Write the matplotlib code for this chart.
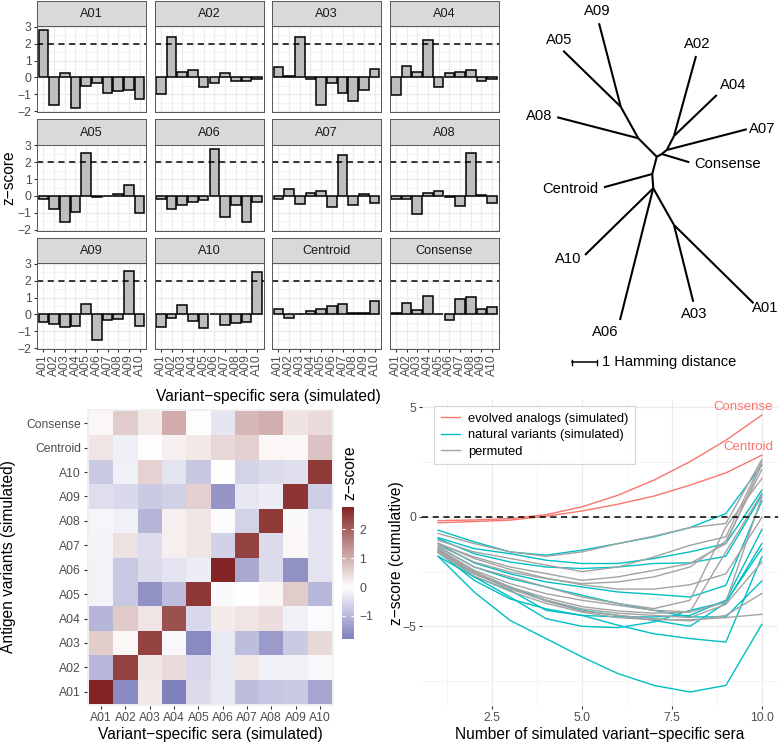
import numpy as np
import matplotlib
matplotlib.use("Agg")
import matplotlib.pyplot as plt
from matplotlib.colors import LinearSegmentedColormap, Normalize
from matplotlib.lines import Line2D

plt.rcParams['font.family'] = ['Liberation Sans', 'DejaVu Sans']

W, H = 778, 743

# --- data -----------------------------------------------------------------
sera = ['A01', 'A02', 'A03', 'A04', 'A05', 'A06', 'A07', 'A08', 'A09', 'A10']
antigens = sera + ['Centroid', 'Consense']

# z-scores of each antigen variant against each variant-specific serum
z_a01 = [2.78, -1.63, 0.29, -1.80, -0.51, -0.31, -0.92, -0.80, -0.75, -1.27]
z_a02 = [-1.00, 2.41, 0.31, 0.47, -0.53, -0.31, 0.29, -0.20, -0.20, -0.10]
z_a03 = [0.63, 0.10, 2.41, -0.10, -1.63, -0.31, -0.92, -1.41, -0.75, 0.49]
z_a04 = [-1.04, 0.69, 0.33, 2.20, -0.53, 0.25, 0.33, 0.43, -0.20, -0.06]
z_a05 = [-0.18, -0.78, -1.55, -0.94, 2.53, -0.08, 0.00, 0.12, 0.67, -1.00]
z_a06 = [-0.18, -0.78, -0.51, -0.37, -0.25, 2.78, -1.22, -0.51, -1.55, -0.37]
z_a07 = [-0.16, 0.39, -0.49, 0.20, 0.31, -0.63, 2.41, -0.51, 0.10, -0.39]
z_a08 = [-0.15, -0.20, -1.04, 0.18, 0.31, -0.06, -0.61, 2.51, 0.08, -0.39]
z_a09 = [-0.47, -0.53, -0.76, -0.67, 0.59, -1.49, -0.33, -0.24, 2.55, -0.69]
z_a10 = [-0.75, -0.20, 0.57, -0.37, -0.80, 0.00, -0.61, -0.51, -0.45, 2.51]
z_centroid = [0.34, -0.23, 0.04, 0.18, 0.30, 0.51, 0.60, 0.09, 0.09, 0.77]
z_consense = [0.10, 0.67, 0.27, 1.06, 0.04, -0.35, 0.90, 1.02, 0.35, 0.47]

# tree: node coordinates (Hamming distance units) and edges
tree_nodes = {
    'root': (0.0, 0.0), 'n1': (-0.74, 0.74), 'n2': (-1.44, 2.0),
    'n3': (0.2, 0.11), 'n4': (0.4, 0.27), 'n5': (0.69, 0.83),
    'n6': (-0.18, -0.69), 'n7': (-0.14, -1.26), 'n8': (0.69, -2.73),
    'A09': (-2.31, 5.34), 'A05': (-3.74, 4.24), 'A08': (-3.98, 1.58),
    'Consense': (1.30, -0.22), 'A07': (3.6, 1.10), 'A02': (1.57, 4.03),
    'A04': (2.4, 2.47), 'Centroid': (-2.11, -1.22), 'A10': (-2.87, -3.93),
    'A06': (-1.47, -6.53), 'A03': (1.46, -5.8), 'A01': (3.87, -5.86),
}
tree_edges = [('root', 'n1'), ('n1', 'A08'), ('n1', 'n2'), ('n2', 'A09'), ('n2', 'A05'),
              ('root', 'n3'), ('n3', 'Consense'), ('n3', 'n4'), ('n4', 'A07'), ('n4', 'n5'),
              ('n5', 'A02'), ('n5', 'A04'), ('root', 'n6'), ('n6', 'Centroid'), ('n6', 'n7'),
              ('n7', 'A10'), ('n7', 'A06'), ('n7', 'n8'), ('n8', 'A03'), ('n8', 'A01')]
# label alignment and offset (points) for each tip
tip_align = {'A09': ('center', 'bottom', 4), 'A05': ('center', 'bottom', 4),
             'A08': ('right', 'center', 4), 'A02': ('center', 'bottom', 4),
             'A04': ('left', 'bottom', 3), 'A07': ('left', 'center', 2),
             'Consense': ('left', 'center', 4), 'Centroid': ('right', 'center', 4),
             'A10': ('right', 'center', 4), 'A06': ('right', 'top', 4),
             'A03': ('center', 'top', 4), 'A01': ('left', 'top', -2)}

# cumulative z-score vs number of sera
n_sera = [1, 2, 3, 4, 5, 6, 7, 8, 9, 10]
evolved_consense = [-0.17, -0.14, -0.08, 0.10, 0.46, 0.99, 1.68, 2.52, 3.50, 4.65]
evolved_centroid = [-0.27, -0.21, -0.15, 0.03, 0.27, 0.58, 0.95, 1.45, 2.01, 2.82]
natural_runs = [
    [-0.61, -1.14, -1.60, -1.75, -1.52, -1.22, -0.91, -0.49, 0.15, 2.36],
    [-0.95, -1.45, -1.68, -1.98, -2.13, -2.13, -1.90, -1.60, -1.22, 1.22],
    [-1.00, -1.68, -2.06, -2.29, -2.36, -2.29, -2.13, -2.10, -1.80, 0.99],
    [-1.22, -2.10, -2.60, -2.97, -3.20, -3.43, -3.54, -3.66, -3.13, 0.73],
    [-1.80, -2.74, -3.35, -4.27, -4.50, -4.57, -4.57, -4.50, -3.81, -0.58],
    [-1.52, -2.59, -3.20, -3.81, -4.27, -4.50, -4.73, -5.00, -3.93, -1.22],
    [-1.45, -2.74, -3.66, -4.65, -5.00, -5.06, -4.80, -4.27, -3.89, -1.45],
    [-1.60, -2.90, -3.75, -4.20, -4.50, -4.95, -5.34, -5.56, -5.72, -1.83],
    [-1.80, -3.43, -4.73, -5.56, -6.40, -7.16, -7.70, -8.00, -7.70, -4.91],
    [-1.37, -2.29, -2.82, -3.20, -3.58, -3.96, -4.27, -4.57, -4.57, -2.93],
]
permuted_runs = [
    [-0.76, -1.22, -1.60, -1.80, -1.60, -1.22, -0.88, -0.49, -0.30, 2.62],
    [-1.07, -1.60, -1.90, -2.20, -2.50, -2.29, -1.83, -1.30, -0.91, 2.52],
    [-1.22, -1.83, -2.29, -2.59, -2.90, -2.74, -2.44, -2.13, -1.22, 2.41],
    [-1.30, -2.06, -2.52, -2.82, -3.05, -2.97, -2.74, -2.29, -1.10, 2.16],
    [-1.37, -2.29, -2.74, -3.20, -3.66, -3.96, -4.19, -3.81, -0.46, 1.75],
    [-1.45, -2.44, -3.05, -3.51, -3.81, -4.04, -4.27, -4.34, -1.60, 1.07],
    [-1.50, -2.50, -3.20, -3.70, -4.10, -4.30, -4.40, -4.35, -3.90, 0.91],
    [-1.20, -1.90, -2.40, -2.80, -3.10, -3.30, -3.30, -3.10, -2.60, -0.03],
    [-1.60, -2.60, -3.30, -3.80, -4.20, -4.40, -4.50, -4.60, -4.00, -2.06],
    [-1.55, -2.55, -3.25, -3.85, -4.30, -4.50, -4.65, -4.75, -4.50, -3.50],
    [-1.65, -2.70, -3.40, -3.95, -4.35, -4.60, -4.70, -4.70, -4.60, -4.45],
]

RED, CYAN, GREY = '#F8766D', '#00BFC4', '#A3A3A3'
TICKCOL = '#4D4D4D'

fig = plt.figure(figsize=(W / 100, H / 100), dpi=100)


def px_axes(x0, y0, x1, y1):
    return fig.add_axes([x0 / W, 1 - y1 / H, (x1 - x0) / W, (y1 - y0) / H])


# --- facet bar charts -----------------------------------------------------
facet_vals = [z_a01, z_a02, z_a03, z_a04, z_a05, z_a06, z_a07, z_a08,
              z_a09, z_a10, z_centroid, z_consense]
facet_left = [37, 154.5, 272, 389.5]
strip_top = [0.5, 119, 237.5]
pw, sh, ph = 109, 25.5, 86
xs = np.arange(1, 11)

for i, (name, vals) in enumerate(zip(antigens, facet_vals)):
    r, c = divmod(i, 4)
    x0, st = facet_left[c], strip_top[r]
    sax = px_axes(x0, st, x0 + pw, st + sh)
    sax.set_facecolor('#D9D9D9')
    sax.set_xticks([])
    sax.set_yticks([])
    for s in sax.spines.values():
        s.set_color('#555555')
        s.set_linewidth(0.7)
    sax.text(0.5, 0.47, name, ha='center', va='center', fontsize=9.2, color='#1A1A1A',
             transform=sax.transAxes)

    ax = px_axes(x0, st + sh, x0 + pw, st + sh + ph)
    ax.set_axisbelow(True)
    ax.bar(xs, vals, width=0.9, color='#BEBEBE', edgecolor='black', linewidth=1.1)
    ax.axhline(2, color='black', linestyle=(0, (4, 3)), linewidth=1.1)
    ax.set_xlim(0.4, 10.6)
    ax.set_ylim(-2.03, 3.03)
    ax.set_xticks(xs)
    ax.set_yticks(np.arange(-2, 4))
    ax.set_yticks(np.arange(-1.5, 3.0, 1.0), minor=True)
    ax.grid(which='major', color='#EBEBEB', linewidth=0.9)
    ax.grid(which='minor', axis='y', color='#F2F2F2', linewidth=0.6)
    for s in ax.spines.values():
        s.set_color('#555555')
        s.set_linewidth(0.7)
    ax.tick_params(which='minor', length=0)
    ax.tick_params(which='major', length=2.5, color='#333333', labelsize=8.7,
                   labelcolor=TICKCOL, pad=1.5)
    if c == 0:
        ax.tick_params(axis='y', left=True, labelleft=True)
    else:
        ax.tick_params(axis='y', left=False, labelleft=False)
    if r == 2:
        ax.set_xticklabels(sera, rotation=90)
    else:
        ax.tick_params(axis='x', bottom=False, labelbottom=False)

fig.text(268 / W, 1 - 397 / H, 'Variant\u2212specific sera (simulated)', ha='center',
         va='center', fontsize=11.2)
fig.text(9 / W, 1 - 178 / H, 'z\u2212score', ha='center', va='center', rotation=90,
         fontsize=11.2)

# --- tree -----------------------------------------------------------------
tax = px_axes(505, 0, 778, 430)
tax.set_xlim(-6.07, 4.85)
tax.set_ylim(-10.93, 6.27)
tax.axis('off')
for a, b in tree_edges:
    (xa, ya), (xb, yb) = tree_nodes[a], tree_nodes[b]
    tax.plot([xa, xb], [ya, yb], color='black', linewidth=1.5, solid_capstyle='butt')
parent = {b: a for a, b in tree_edges}
for tip, (ha, va, off) in tip_align.items():
    xt, yt = tree_nodes[tip]
    xp, yp = tree_nodes[parent[tip]]
    d = np.hypot(xt - xp, yt - yp)
    tax.annotate(tip, xy=(xt, yt), xytext=(off * (xt - xp) / d, off * (yt - yp) / d),
                 textcoords='offset points', ha=ha, va=va, fontsize=10.6,
                 annotation_clip=False)
# scale bar: 1 Hamming distance
sb_x, sb_y = -3.39, -8.21
tax.plot([sb_x, sb_x + 1], [sb_y, sb_y], color='black', linewidth=1.1)
tax.plot([sb_x, sb_x], [sb_y - 0.1, sb_y + 0.1], color='black', linewidth=1.0)
tax.plot([sb_x + 1, sb_x + 1], [sb_y - 0.1, sb_y + 0.1], color='black', linewidth=1.0)
tax.text(sb_x + 1.2, sb_y, '1 Hamming distance', ha='left', va='center', fontsize=10.5)

# --- heatmap --------------------------------------------------------------
mat = np.array(facet_vals)
hax = px_axes(86.6, 408.6, 334.4, 706.4)
hax.set_facecolor('#F0F0F0')
lim = np.abs(mat).max()
cmap = LinearSegmentedColormap.from_list('gr2', ['#3A3A98', '#FFFFFF', '#832424'])
norm = Normalize(vmin=-lim, vmax=lim)
mesh = hax.pcolormesh(np.arange(0.5, 11.5), np.arange(0.5, 13.5), mat, cmap=cmap, norm=norm)
hax.set_xlim(0.4, 10.6)
hax.set_ylim(0.4, 12.6)
hax.set_xticks(np.arange(1, 11))
hax.set_xticklabels(sera)
hax.set_yticks(np.arange(1, 13))
hax.set_yticklabels(antigens)
for s in hax.spines.values():
    s.set_visible(False)
hax.tick_params(length=2.5, color='#333333', labelsize=8.7, labelcolor=TICKCOL, pad=1.5)
fig.text(210 / W, 1 - 734 / H, 'Variant\u2212specific sera (simulated)', ha='center',
         va='center', fontsize=11.2)
fig.text(9 / W, 1 - 557 / H, 'Antigen variants (simulated)', ha='center', va='center',
         rotation=90, fontsize=11.2)

cax = px_axes(342, 507, 354, 639)
cb = fig.colorbar(mesh, cax=cax, boundaries=np.linspace(mat.min(), mat.max(), 300),
                  ticks=[-1, 0, 1, 2])
cb.outline.set_visible(False)
cax.tick_params(which='both', left=True, right=True, direction='in', length=2.5,
                color='white', width=0.8, labelsize=8.7, labelcolor=TICKCOL, pad=4)
fig.text(350 / W, 1 - 473 / H, 'z\u2212score', ha='center', va='center', rotation=90,
         fontsize=11.2)

# --- cumulative z-score lines ---------------------------------------------
lax = px_axes(422, 400, 778, 706)
lax.set_axisbelow(True)
for run in natural_runs:
    lax.plot(n_sera, run, color=CYAN, linewidth=1.0)
for run in permuted_runs:
    lax.plot(n_sera, run, color=GREY, linewidth=1.0)
lax.plot(n_sera, evolved_consense, color=RED, linewidth=1.0)
lax.plot(n_sera, evolved_centroid, color=RED, linewidth=1.0)
lax.axhline(0, color='black', linestyle=(0, (4, 3)), linewidth=1.1)
for lbl, run in [('Consense', evolved_consense), ('Centroid', evolved_centroid)]:
    lax.annotate(lbl, xy=(n_sera[-1], run[-1]), xytext=(8, 1.5), textcoords='offset points',
                 ha='right', va='bottom', color=RED, fontsize=9.5, annotation_clip=False)
lax.set_xlim(0.55, 10.45)
lax.set_ylim(-8.64, 5.34)
lax.set_xticks([2.5, 5.0, 7.5, 10.0])
lax.set_xticklabels(['2.5', '5.0', '7.5', '10.0'])
lax.set_xticks([1.25, 3.75, 6.25, 8.75], minor=True)
lax.set_yticks([-5, 0, 5])
lax.set_yticks([-7.5, -2.5, 2.5], minor=True)
lax.grid(which='major', color='#EBEBEB', linewidth=0.9)
lax.grid(which='minor', color='#F2F2F2', linewidth=0.6)
for s in lax.spines.values():
    s.set_visible(False)
lax.tick_params(which='minor', length=0)
lax.tick_params(which='major', length=2.5, color='#333333', labelsize=8.7,
                labelcolor=TICKCOL, pad=1.5)
handles = [Line2D([0], [0], color=RED, linewidth=1.0, label='evolved analogs (simulated)'),
           Line2D([0], [0], color=CYAN, linewidth=1.0, label='natural variants (simulated)'),
           Line2D([0], [0], color=GREY, linewidth=1.0, label='permuted')]
leg = lax.legend(handles=handles, loc='upper left', bbox_to_anchor=(0.034, 0.98),
                 borderaxespad=0, fontsize=9.3, frameon=True, fancybox=False,
                 handlelength=1.5, handletextpad=0.6, borderpad=0.5, labelspacing=0.35)
leg.get_frame().set_edgecolor('#CCCCCC')
leg.get_frame().set_linewidth(0.8)
fig.text(600 / W, 1 - 735 / H, 'Number of simulated variant\u2212specific sera', ha='center',
         va='center', fontsize=11.2)
fig.text(396 / W, 1 - 553 / H, 'z\u2212score (cumulative)', ha='center', va='center',
         rotation=90, fontsize=11.2)

fig.savefig('out.png', dpi=100)
